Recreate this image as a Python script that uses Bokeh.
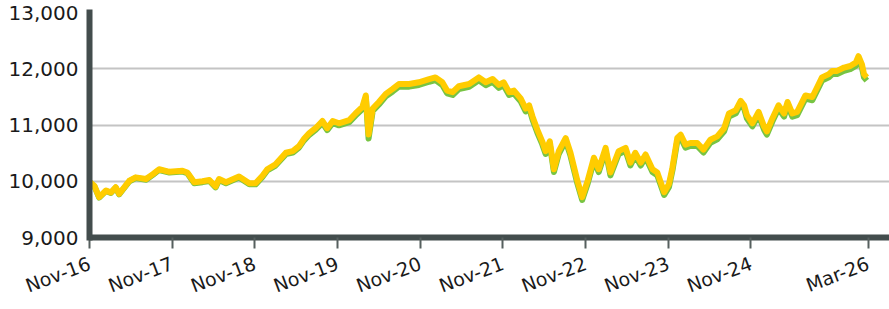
from bokeh.plotting import figure
from bokeh.models import FixedTicker, Range1d
from bokeh.embed import file_html
from bokeh.resources import INLINE

# months since Nov 2016
months = [0.0, 0.7, 1.4, 2.4, 3.1, 3.8, 4.3, 5.8, 6.7, 8.2, 9.2, 10.1, 11.6, 13.5, 14.2, 15.2,
          16.4, 17.4, 18.3, 18.8, 19.8, 21.7, 23.2, 24.1, 25.1, 25.8, 27.0, 28.5, 29.5, 30.4,
          31.1, 31.9, 32.8, 33.8, 34.5, 35.3, 36.2, 37.7, 38.6, 39.6, 40.1, 40.5, 41.1, 42.0,
          43.0, 44.0, 44.9, 46.4, 47.8, 49.3, 50.2, 51.2, 51.9, 52.7, 53.6, 55.1, 56.5, 57.5,
          58.5, 59.4, 60.1, 60.9, 61.6, 62.6, 63.3, 63.8, 64.3, 65.0, 65.7, 66.2, 66.8, 67.4,
          68.1, 69.1, 69.8, 70.8, 71.5, 72.3, 73.2, 73.9, 74.9, 75.6, 76.8, 77.8, 78.5, 79.2,
          80.0, 80.7, 81.7, 82.4, 83.4, 84.1, 84.6, 85.3, 85.8, 86.5, 87.2, 88.2, 89.1, 90.1,
          91.1, 92.1, 92.8, 93.8, 94.5, 95.0, 95.4, 96.2, 97.1, 97.9, 98.3, 99.1, 100.0, 100.8,
          101.3, 102.0, 102.7, 103.9, 104.9, 105.6, 106.3, 107.3, 107.8, 108.5, 109.5, 110.4,
          111.2, 111.6, 112.1, 112.4, 112.8]

fund = [9990, 9920, 9719, 9836, 9800, 9894, 9777, 10010, 10069, 10039, 10126, 10213, 10168,
        10186, 10156, 9981, 9999, 10021, 9906, 10039, 9981, 10086, 9964, 9964, 10098, 10213,
        10301, 10506, 10535, 10623, 10750, 10855, 10943, 11071, 10943, 11071, 11030, 11088,
        11205, 11322, 11525, 10830, 11292, 11409, 11554, 11642, 11729, 11729, 11759, 11817,
        11846, 11759, 11612, 11584, 11689, 11729, 11846, 11759, 11817, 11712, 11759, 11584,
        11612, 11467, 11292, 11350, 11147, 10913, 10710, 10535, 10710, 10214, 10535, 10768,
        10506, 10011, 9719, 10011, 10418, 10214, 10593, 10156, 10535, 10593, 10331, 10506,
        10331, 10476, 10214, 10156, 9806, 9952, 10243, 10768, 10826, 10651, 10680, 10680,
        10563, 10738, 10798, 10943, 11205, 11263, 11427, 11350, 11175, 11030, 11234, 10972,
        10885, 11117, 11350, 11205, 11409, 11205, 11234, 11525, 11497, 11671, 11846, 11904,
        11962, 11962, 12021, 12049, 12108, 12224, 12079, 11904, 11846]

benchmark = [9985, 9912, 9710, 9828, 9792, 9885, 9768, 10000, 10058, 10028, 10114, 10200, 10155,
             10172, 10142, 9966, 9984, 10005, 9890, 10022, 9964, 10068, 9946, 9945, 10078, 10192,
             10279, 10482, 10510, 10597, 10722, 10826, 10912, 11038, 10909, 11036, 10994, 11050,
             11166, 11282, 11484, 10760, 11249, 11365, 11509, 11596, 11682, 11682, 11711, 11769,
             11797, 11710, 11563, 11534, 11639, 11679, 11795, 11708, 11766, 11661, 11708, 11533,
             11561, 11416, 11241, 11299, 11096, 10862, 10659, 10484, 10659, 10163, 10484, 10717,
             10455, 9960, 9668, 9960, 10367, 10163, 10542, 10105, 10484, 10542, 10280, 10455,
             10280, 10425, 10163, 10105, 9755, 9900, 10191, 10716, 10773, 10598, 10627, 10627,
             10510, 10684, 10744, 10889, 11150, 11208, 11372, 11295, 11120, 10975, 11178, 10916,
             10829, 11061, 11294, 11149, 11352, 11148, 11177, 11468, 11440, 11614, 11789, 11847,
             11905, 11905, 11964, 11992, 12051, 12167, 12022, 11847, 11789]

x_tick_pos = [0, 12, 24, 36, 48, 60, 72, 84, 96, 113]
x_tick_labels = ["Nov-16", "Nov-17", "Nov-18", "Nov-19", "Nov-20", "Nov-21", "Nov-22",
                 "Nov-23", "Nov-24", "Mar-26"]
y_ticks = [9000, 10000, 11000, 12000, 13000]
y_tick_labels = ["9,000", "10,000", "11,000", "12,000", "13,000"]

AXIS = "#434d4d"
FONT = "DejaVu Sans"

p = figure(width=889, height=309, output_backend="svg", toolbar_location=None,
           x_range=Range1d(0, 116.1), y_range=Range1d(9000, 13000),
           min_border_left=89, min_border_top=12, min_border_right=0, min_border_bottom=68)
p.outline_line_color = None
p.background_fill_color = "white"
p.border_fill_color = "white"

p.line(months, benchmark, line_color="#77c443", line_width=6, line_join="round")
p.line(months, fund, line_color="#ffcc00", line_width=6, line_join="round")

p.xgrid.visible = False
p.ygrid.grid_line_color = "#c4c4c4"
p.ygrid.grid_line_width = 2
p.ygrid.ticker = FixedTicker(ticks=y_ticks)

xa = p.xaxis[0]
xa.ticker = FixedTicker(ticks=x_tick_pos)
xa.major_label_overrides = {t: l for t, l in zip(x_tick_pos, x_tick_labels)}
xa.axis_line_color = AXIS
xa.axis_line_width = 6
xa.major_tick_line_color = "#56605f"
xa.major_tick_line_width = 2
xa.major_tick_in = 0
xa.major_tick_out = 11
xa.minor_tick_line_color = None
xa.major_label_orientation = 0.36
xa.major_label_text_font = FONT
xa.major_label_text_font_size = "19px"
xa.major_label_text_color = "#1a1a1a"
xa.major_label_standoff = 14

ya = p.yaxis[0]
ya.ticker = FixedTicker(ticks=y_ticks)
ya.major_label_overrides = {t: l for t, l in zip(y_ticks, y_tick_labels)}
ya.axis_line_color = AXIS
ya.axis_line_width = 6
ya.axis_line_cap = "square"
ya.major_tick_line_color = None
ya.minor_tick_line_color = None
ya.major_tick_in = 0
ya.major_tick_out = 0
ya.major_label_standoff = 11
ya.major_label_text_font = FONT
ya.major_label_text_font_size = "20px"
ya.major_label_text_color = "#1a1a1a"

open("out.html", "w").write(file_html(p, INLINE))
